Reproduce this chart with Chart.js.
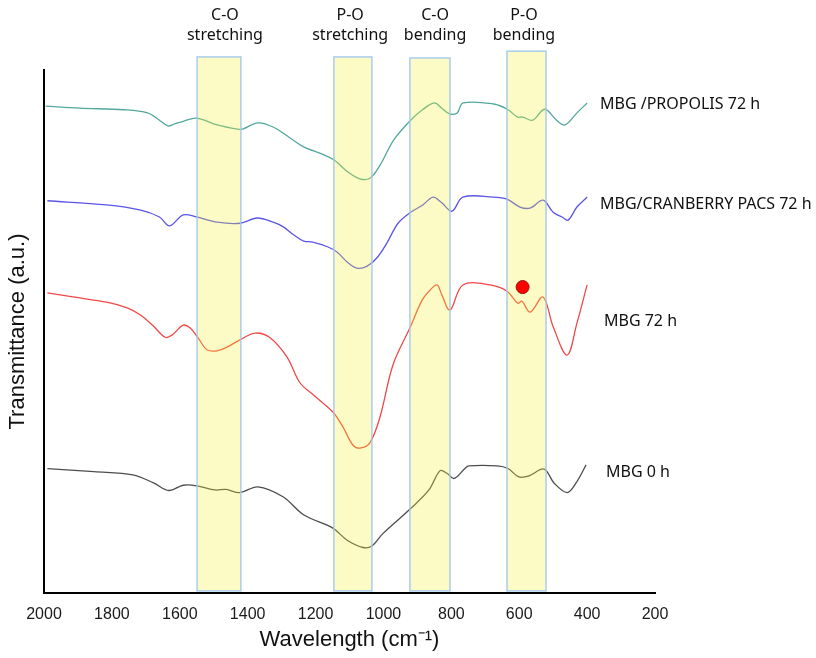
<!DOCTYPE html>
<html>
<head>
<meta charset="utf-8">
<script src="https://cdn.jsdelivr.net/npm/chart.js@4.4.1/dist/chart.umd.min.js"></script>
<style>
  html, body { margin: 0; padding: 0; background: #ffffff; }
  #wrap { width: 816px; height: 658px; position: relative; }
</style>
</head>
<body>
<div id="wrap"><canvas id="c" width="816" height="658"></canvas></div>
<script>
// ---------- data (wavenumber in cm-1, transmittance in a.u.) ----------
const xTicks = [2000, 1800, 1600, 1400, 1200, 1000, 800, 600, 400, 200];

const seriesNames = ["MBG /PROPOLIS 72 h", "MBG/CRANBERRY PACS 72 h", "MBG 72 h", "MBG 0 h"];

const wnPropolis = [1995, 1895, 1765, 1695, 1660, 1635, 1615, 1590, 1550, 1490, 1430, 1415, 1370, 1325, 1275, 1235, 1180, 1145, 1105, 1070, 1040, 1010, 970, 920, 885, 850, 828, 805, 783, 765, 675, 635, 605, 590, 560, 525, 490, 465, 430, 400];
const tPropolis  = [93.1, 92.7, 92.4, 91.8, 90.4, 89.3, 89.7, 90.2, 90.8, 89.5, 88.7, 88.7, 89.9, 89.1, 87.0, 85.3, 83.9, 82.8, 80.5, 79.2, 79.3, 81.8, 86.6, 90.4, 92.4, 93.7, 92.7, 91.6, 91.8, 93.7, 93.5, 92.5, 91.0, 91.0, 90.4, 92.5, 90.4, 89.5, 91.8, 93.7];

const wnCranberry = [1990, 1815, 1715, 1660, 1630, 1590, 1550, 1490, 1422, 1372, 1325, 1295, 1265, 1235, 1208, 1165, 1137, 1107, 1078, 1048, 1019, 990, 957, 922, 884, 854, 828, 798, 766, 677, 636, 598, 568, 530, 500, 474, 456, 430, 400];
const tCranberry  = [75.0, 74.2, 73.2, 71.9, 70.2, 72.3, 71.9, 70.9, 70.7, 71.7, 70.9, 70.0, 68.5, 67.3, 67.1, 66.2, 65.2, 63.3, 62.1, 62.5, 64.1, 66.9, 70.7, 72.7, 74.2, 75.7, 74.6, 73.0, 75.7, 75.7, 75.3, 73.8, 73.6, 75.1, 72.8, 71.9, 71.3, 73.8, 75.7];

const wnMbg72 = [1990, 1915, 1815, 1755, 1717, 1680, 1643, 1623, 1590, 1570, 1546, 1520, 1490, 1461, 1423, 1378, 1334, 1284, 1246, 1207, 1149, 1119, 1090, 1069, 1040, 1010, 972, 922, 886, 863, 842, 828, 804, 766, 686, 636, 604, 592, 568, 530, 500, 459, 430, 400];
const tMbg72  = [57.4, 56.6, 55.6, 54.5, 53.2, 51.2, 48.9, 49.3, 51.2, 50.7, 48.8, 46.5, 46.3, 47.0, 48.4, 49.7, 48.8, 45.1, 40.2, 37.9, 34.6, 31.7, 28.3, 27.7, 28.7, 33.7, 43.6, 50.7, 56.0, 57.9, 58.9, 57.0, 54.1, 58.9, 58.9, 57.7, 55.4, 55.8, 53.7, 56.6, 50.9, 45.5, 51.6, 58.9];

const wnMbg0 = [1990, 1853, 1738, 1676, 1632, 1590, 1550, 1496, 1464, 1423, 1370, 1296, 1234, 1149, 1107, 1060, 1034, 1001, 919, 866, 833, 813, 792, 760, 748, 665, 633, 601, 571, 527, 497, 459, 433, 403];
const tMbg0  = [23.8, 23.2, 22.6, 21.0, 19.6, 20.6, 20.5, 19.7, 19.8, 19.2, 20.3, 18.4, 14.9, 12.4, 10.1, 8.7, 9.0, 11.4, 16.2, 19.7, 23.4, 22.9, 21.9, 23.8, 24.3, 24.3, 23.8, 22.2, 22.4, 23.7, 21.0, 19.2, 21.0, 24.5];

// marked point (red dot) on MBG 72 h
const dotWn = [590];
const dotT  = [58.5];

// highlighted regions
const bandLabels = [["C-O", "stretching"], ["P-O", "stretching"], ["C-O", "bending"], ["P-O", "bending"]];
const bandFrom   = [1549, 1146, 922, 636];
const bandTo     = [1420, 1034, 804, 521];
const bandTop    = [102.5, 102.5, 102.3, 103.6];
const bandLabelWn = [1467, 1098, 848, 586];

// ---------- styles ----------
const colors = ["#52a89c", "#5a55e6", "#f04848", "#4d4d4d"];
const labelPos = [[600, 109], [600, 209], [604, 326], [606, 477]];

function pts(xs, ys) { return xs.map((x, i) => ({ x: x, y: ys[i] })); }

const seriesData = [pts(wnPropolis, tPropolis), pts(wnCranberry, tCranberry), pts(wnMbg72, tMbg72), pts(wnMbg0, tMbg0)];

const datasets = seriesData.map((d, i) => ({
  label: seriesNames[i],
  data: d,
  borderColor: colors[i],
  borderWidth: 1.3,
  pointRadius: 0,
  tension: 0.35,
  fill: false,
  order: 1
}));
datasets.push({
  type: 'scatter',
  label: 'marker',
  data: pts(dotWn, dotT),
  pointRadius: 6.5,
  pointBackgroundColor: '#ff0000',
  pointBorderColor: '#9a1010',
  pointBorderWidth: 1,
  showLine: false,
  order: 0
});

function drawBands(chart) {
  const ctx = chart.ctx;
  const xs = chart.scales.x, ys = chart.scales.y;
  ctx.save();
  for (let i = 0; i < bandFrom.length; i++) {
    const x1 = xs.getPixelForValue(bandFrom[i]);
    const x2 = xs.getPixelForValue(bandTo[i]);
    const y1 = ys.getPixelForValue(bandTop[i]);
    const y2 = ys.getPixelForValue(0.4);
    ctx.fillStyle = 'rgba(245,240,50,0.28)';
    ctx.fillRect(x1, y1, x2 - x1, y2 - y1);
    ctx.strokeStyle = 'rgba(160,200,238,0.9)';
    ctx.lineWidth = 1.5;
    ctx.strokeRect(x1, y1, x2 - x1, y2 - y1);
  }
  ctx.restore();
}

const overlayPlugin = {
  id: 'overlay',
  beforeDatasetDraw(chart, args) {
    // bands go over the spectra but under the marker dot
    if (args.meta.type === 'scatter') drawBands(chart);
  },
  afterDraw(chart) {
    const ctx = chart.ctx;
    const xs = chart.scales.x;
    ctx.save();
    ctx.fillStyle = '#111111';
    ctx.font = '16px "Noto Sans", sans-serif';
    ctx.textBaseline = 'alphabetic';
    ctx.textAlign = 'center';
    for (let i = 0; i < bandLabels.length; i++) {
      const cx = xs.getPixelForValue(bandLabelWn[i]);
      ctx.fillText(bandLabels[i][0], cx, 20);
      ctx.fillText(bandLabels[i][1], cx, 40);
    }
    ctx.textAlign = 'left';
    for (let i = 0; i < seriesNames.length; i++) {
      ctx.fillText(seriesNames[i], labelPos[i][0], labelPos[i][1]);
    }
    ctx.restore();
  }
};

new Chart(document.getElementById('c'), {
  type: 'line',
  data: { datasets: datasets },
  plugins: [overlayPlugin],
  options: {
    responsive: false,
    animation: false,
    devicePixelRatio: 1,
    layout: { padding: { top: 70, right: 161, left: 0, bottom: 0 } },
    plugins: { legend: { display: false }, tooltip: { enabled: false } },
    scales: {
      x: {
        type: 'linear',
        min: 200,
        max: 2000,
        reverse: true,
        afterBuildTicks(scale) { scale.ticks = xTicks.map(v => ({ value: v })); },
        afterFit(scale) { scale.height = 65; },
        grid: { display: false },
        border: { display: true, color: '#000000', width: 2 },
        ticks: {
          color: '#1a1a1a',
          font: { family: '"Liberation Sans Narrow", "Liberation Sans", Arial, sans-serif', size: 16 },
          padding: 4,
          maxRotation: 0,
          autoSkip: false,
          callback: (v) => String(v)
        },
        title: {
          display: true,
          text: 'Wavelength (cm\u207B\u00B9)',
          color: '#111111',
          font: { family: '"Liberation Sans", Arial, sans-serif', size: 22 },
          padding: { top: 0, bottom: 5 }
        }
      },
      y: {
        type: 'linear',
        min: 0,
        max: 100,
        afterFit(scale) { scale.width = 44; },
        grid: { display: false },
        border: { display: true, color: '#000000', width: 2 },
        ticks: { display: false },
        title: {
          display: true,
          text: 'Transmittance (a.u.)',
          color: '#111111',
          font: { family: '"Liberation Sans", Arial, sans-serif', size: 22 },
          padding: { top: 5, bottom: 0 }
        }
      }
    }
  }
});
</script>
</body>
</html>
